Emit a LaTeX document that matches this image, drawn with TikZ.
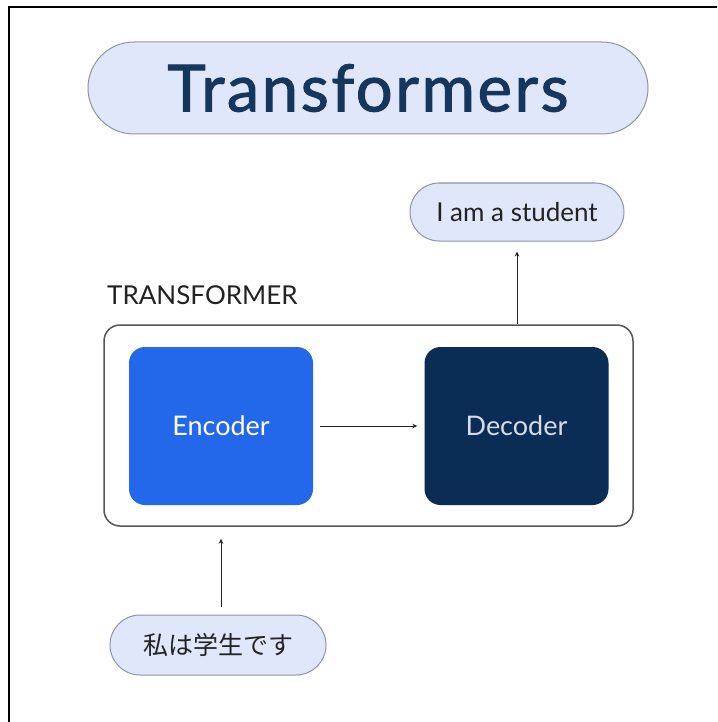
\documentclass[tikz,border=0pt]{standalone}
\usepackage{fontspec}
\setmainfont{Lato}
\newfontfamily\titlefont{Lato}[LetterSpace=4,FakeBold=1.6]
\newfontfamily\cjk{Noto Sans CJK JP}
\usetikzlibrary{arrows.meta}
\definecolor{pillfill}{HTML}{E1E7FA}
\definecolor{pillline}{HTML}{8E93A6}
\definecolor{navy}{HTML}{15375E}
\definecolor{encblue}{HTML}{2368EA}
\definecolor{decnavy}{HTML}{0B2C54}
\definecolor{dectext}{HTML}{D4DCEA}
\definecolor{ink}{HTML}{222222}
\definecolor{frame}{HTML}{555555}
\tikzset{
  pill/.style={draw=pillline, line width=1pt, fill=pillfill, rounded corners=#1},
  block/.style={rounded corners=16pt, minimum width=184pt, minimum height=158pt, inner sep=0pt,
                font=\fontsize{27}{32}\selectfont},
  link/.style={draw=ink, line width=0.9pt, -{Stealth[length=5pt,width=4.5pt]}}
}
\begin{document}
\begin{tikzpicture}[x=1pt,y=-1pt]
  \useasboundingbox (0,0) rectangle (717,722);
  \fill[white] (0,0) rectangle (717,722);
  % frame lines along top and left
  \draw[black, line width=2.5pt] (9,722) -- (9,7) -- (717,7);

  % title
  \node[pill=46pt, minimum width=560pt, minimum height=92pt, text=navy,
        font=\titlefont\fontsize{65}{70}\selectfont] (title) at (368,88) {Transformers};

  % output sentence
  \node[pill=29pt, minimum width=214pt, minimum height=58pt, text=ink,
        font=\fontsize{26}{30}\selectfont] (out) at (517,212) {I am a student};

  % transformer container
  \node[draw=frame, line width=1.5pt, rounded corners=16pt, minimum width=529pt,
        minimum height=201pt, inner sep=0pt] (tr) at (368.5,425.5) {};
  \node[anchor=west, text=ink, inner sep=0pt, font=\fontsize{26}{30}\selectfont] (trlabel) at (107,295) {TRANSFORMER};

  % encoder / decoder
  \node[block, fill=encblue, text=white] (enc) at (221,426) {Encoder};
  \node[block, fill=decnavy, text=dectext] (dec) at (516.5,426) {Decoder};

  % input sentence
  \node[pill=30pt, minimum width=216pt, minimum height=60pt, text=ink,
        font=\cjk\fontsize{25}{30}\selectfont] (inp) at (218,645) {私は学生です};

  % connectors
  \draw[link] ([xshift=7pt]enc.east) -- ([xshift=-7pt]dec.west);
  \coordinate (trtop) at (tr.north -| out.south);
  \draw[link] (trtop) -- ([yshift=-10pt]out.south);
  \coordinate (trbot) at ([yshift=-12pt]tr.south -| enc.south);
  \draw[link] ([yshift=8pt]inp.north -| enc.south) -- (trbot);
\end{tikzpicture}
\end{document}
